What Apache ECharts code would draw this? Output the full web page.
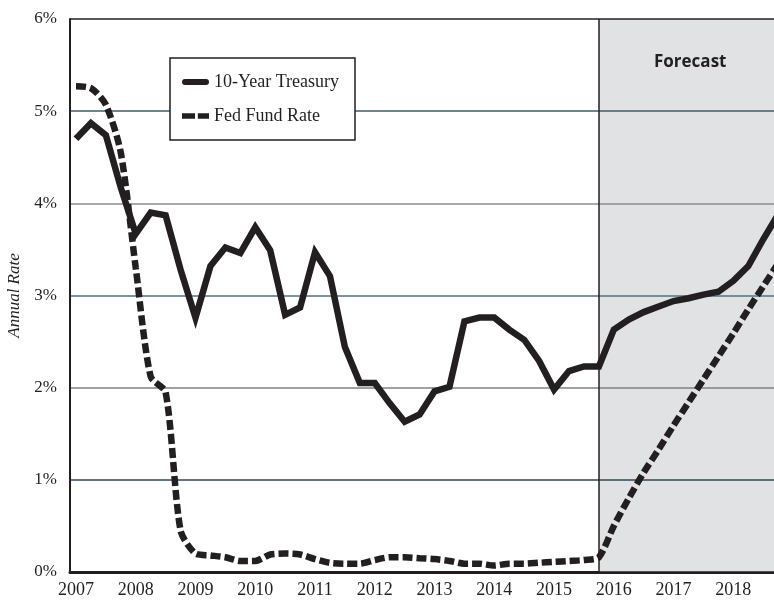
<!DOCTYPE html>
<html>
<head>
<meta charset="utf-8">
<script src="https://cdn.jsdelivr.net/npm/echarts@6/dist/echarts.min.js"></script>
<style>
html, body { margin: 0; padding: 0; background: #fff; }
#chart { width: 774px; height: 603px; }
</style>
</head>
<body>
<div id="chart"></div>
<script>
// quarterly values, 2007 Q1 .. 2018 Q4 (forecast from 2015 Q4)
const firstYear = 2007;
const yearLabels = [2007, 2008, 2009, 2010, 2011, 2012, 2013, 2014, 2015, 2016, 2017, 2018];
const forecastStart = 2015.75;
const treasury = [4.70, 4.87, 4.74, 4.17, 3.67, 3.90, 3.87, 3.28, 2.76, 3.32, 3.52, 3.46,
                  3.74, 3.49, 2.79, 2.87, 3.47, 3.21, 2.44, 2.05, 2.05, 1.83, 1.63, 1.71,
                  1.96, 2.01, 2.72, 2.76, 2.76, 2.63, 2.52, 2.29, 1.98, 2.18, 2.23, 2.23,
                  2.63, 2.74, 2.82, 2.88, 2.94, 2.97, 3.01, 3.04, 3.16, 3.32, 3.61, 3.88];
const fedFunds = [5.27, 5.25, 5.07, 4.55, 3.30, 2.12, 1.95, 0.45, 0.20, 0.18, 0.16, 0.12,
                  0.12, 0.19, 0.20, 0.19, 0.14, 0.10, 0.09, 0.09, 0.13, 0.16, 0.16, 0.15,
                  0.14, 0.12, 0.09, 0.09, 0.07, 0.09, 0.09, 0.10, 0.11, 0.12, 0.13, 0.16,
                  0.50, 0.80, 1.08, 1.33, 1.59, 1.84, 2.09, 2.34, 2.59, 2.85, 3.10, 3.35];

const xMin = 2006.9;
const xMax = 2018.68;
const toPoints = arr => arr.map((v, i) => [firstYear + i / 4, v]);

const serif = 'Liberation Serif';
const ink = '#231f20';

const myChart = echarts.init(document.getElementById('chart'));
const option = {
    animation: false,
    grid: { left: 70, right: 0, top: 19, bottom: 31, outerBoundsMode: 'none', containLabel: false },
    legend: {
        orient: 'vertical',
        left: 170,
        top: 58,
        padding: [15, 12, 15, 12],
        itemGap: 16,
        itemWidth: 27,
        itemHeight: 7,
        backgroundColor: '#fff',
        borderColor: ink,
        borderWidth: 1.5,
        textStyle: { fontFamily: serif, fontSize: 18, color: ink, lineHeight: 16, padding: [0, 4, 0, 0] },
        data: [
            { name: '10-Year Treasury', icon: 'path://M3,0 L24,0 A3,3 0 0 1 24,6 L3,6 A3,3 0 0 1 3,0 Z' },
            { name: 'Fed Fund Rate', icon: 'path://M0,0 L14,0 L14,6 L0,6 Z M17,0 L29,0 L29,6 L17,6 Z' }
        ]
    },
    xAxis: {
        type: 'value',
        min: xMin,
        max: xMax,
        splitLine: { show: false },
        axisTick: { show: false },
        axisLine: { lineStyle: { color: ink, width: 3 } },
        axisLabel: {
            customValues: yearLabels,
            formatter: v => String(Math.round(v)),
            fontFamily: serif,
            fontSize: 18,
            color: ink,
            margin: 9
        }
    },
    yAxis: {
        type: 'value',
        min: 0,
        max: 6,
        interval: 1,
        z: 2,
        name: 'Annual Rate',
        nameLocation: 'middle',
        nameGap: 38,
        nameTextStyle: { fontFamily: serif, fontStyle: 'italic', fontSize: 17, color: ink },
        axisLine: { show: true, lineStyle: { color: ink, width: 2 } },
        axisTick: { show: false },
        axisLabel: {
            formatter: '{value}%',
            fontFamily: serif,
            fontSize: 17,
            color: ink,
            margin: 13
        },
        splitLine: {
            lineStyle: {
                color: [ink, '#2e4756', '#808080', '#4f7385', '#8c8c8c', '#3e5d6d', ink],
                width: 1.5
            }
        }
    },
    series: [
        {
            type: 'line',
            data: [],
            z: 1,
            silent: true,
            markArea: {
                silent: true,
                z: 1,
                itemStyle: { color: '#e1e2e4' },
                data: [[{ xAxis: forecastStart }, { xAxis: xMax }]]
            },
            markLine: {
                silent: true,
                symbol: 'none',
                label: { show: false },
                lineStyle: { color: ink, width: 1.5, type: 'solid' },
                data: [{ xAxis: forecastStart }]
            }
        },
        {
            name: '10-Year Treasury',
            type: 'line',
            z: 3,
            data: toPoints(treasury),
            showSymbol: false,
            symbol: 'none',
            lineStyle: { color: ink, width: 6.5, join: 'miter' },
            itemStyle: { color: ink }
        },
        {
            name: 'Fed Fund Rate',
            type: 'line',
            z: 3,
            data: toPoints(fedFunds),
            showSymbol: false,
            symbol: 'none',
            smooth: 0.25,
            lineStyle: { color: ink, width: 6.5, type: [10, 4] },
            itemStyle: { color: ink }
        }
    ],
    graphic: [{
        type: 'text',
        left: 654,
        top: 54,
        z: 10,
        style: {
            text: 'Forecast',
            font: 'bold 17px "Open Sans"',
            fill: ink
        }
    }]
};
myChart.setOption(option);
</script>
</body>
</html>
